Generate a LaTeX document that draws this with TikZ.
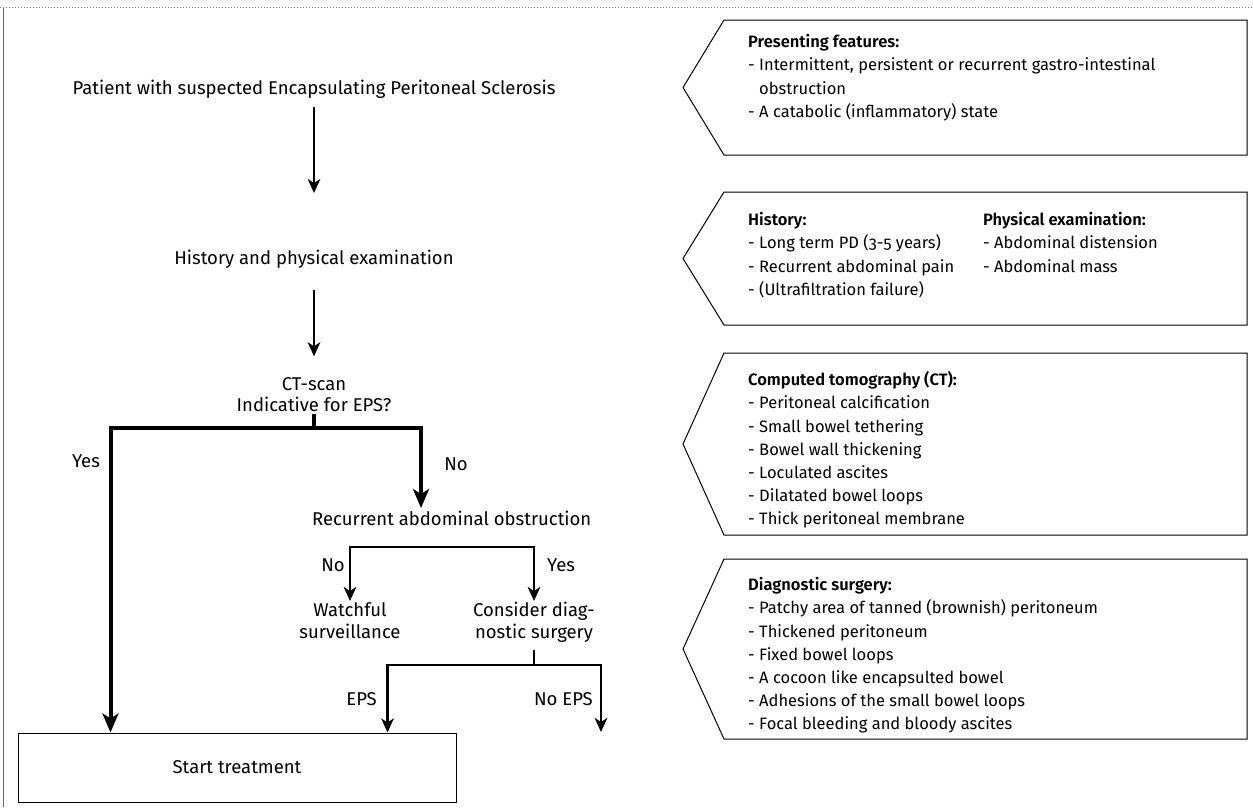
\documentclass[tikz,border=0pt]{standalone}
\usepackage{fontspec}
\setmainfont[Numbers=OldStyle, BoldFont={Fira Sans SemiBold}]{Fira Sans}
\usetikzlibrary{arrows.meta}
\begin{document}
\begin{tikzpicture}[x=1pt,y=-1pt,
  fnt/.style={font=\fontsize{16.5}{23.2}\selectfont},
  ffnt/.style={font=\fontsize{18.5}{22}\selectfont},
  txt/.style={ffnt, inner sep=0pt, text height=13pt, text depth=4.5pt},
  mtxt/.style={ffnt, inner sep=0pt, align=center, anchor=north},
  btxt/.style={fnt, inner sep=0pt, align=left, anchor=north west},
  thinarr/.style={line width=2.4pt, -{Stealth[length=14pt,width=12.5pt,inset=4pt]}},
  thickarr/.style={line width=4pt, -{Stealth[length=19pt,width=16pt,inset=5pt]}},
  thickline/.style={line width=4pt},
  thinline/.style={line width=2.4pt},
  sidebox/.style={draw=black, line width=1pt, line join=miter},
  treat/.style={draw=black, line width=1pt, minimum width=438pt, minimum height=69pt, inner sep=0pt, ffnt}
]
\useasboundingbox (0,0) rectangle (1253,807);
% frame lines
\draw[gray, line width=1pt, dotted] (0,7.5) -- (1253,7.5);
\draw[gray!80!black, line width=1.3pt] (3.5,7.5) -- (3.5,807);

% right side boxes
\draw[sidebox] (724,20) -- (1247,20) -- (1247,155) -- (724,155) -- (683,87.5) -- cycle;
\draw[sidebox] (724,192) -- (1247,192) -- (1247,325) -- (724,325) -- (683,258.5) -- cycle;
\draw[sidebox] (724,353) -- (1247,353) -- (1247,535) -- (724,535) -- (683,444) -- cycle;
\draw[sidebox] (724,559) -- (1247,559) -- (1247,739) -- (724,739) -- (683,649) -- cycle;

\node[btxt] (b1) at (748,31.3) {\strut\textbf{Presenting features:}\\- Intermittent, persistent or recurrent gastro-intestinal\\\hphantom{- }obstruction\\- A catabolic (inflammatory) state};
\node[btxt] (b2) at (748,209.3) {\strut\textbf{History:}\\- Long term PD (3-5 years)\\- Recurrent abdominal pain\\- (Ultrafiltration failure)};
\node[btxt] (b2b) at (983,209.3) {\strut\textbf{Physical examination:}\\- Abdominal distension\\- Abdominal mass};
\node[btxt] (b3) at (748,369.3) {\strut\textbf{Computed tomography (CT):}\\- Peritoneal calcification\\- Small bowel tethering\\- Bowel wall thickening\\- Loculated ascites\\- Dilatated bowel loops\\- Thick peritoneal membrane};
\node[btxt] (b4) at (748,574.3) {\strut\textbf{Diagnostic surgery:}\\- Patchy area of tanned (brownish) peritoneum\\- Thickened peritoneum\\- Fixed bowel loops\\- A cocoon like encapsulted bowel\\- Adhesions of the small bowel loops\\- Focal bleeding and bloody ascites};

% flow nodes
\node[txt] (p1) at (314,90) {Patient with suspected Encapsulating Peritoneal Sclerosis};
\node[txt] (p2) at (314,260) {History and physical examination};
\node[mtxt, font=\fontsize{18.5}{21}\selectfont] (p3) at (314,375.3) {\strut CT-scan\\Indicative for EPS?};
\node[txt, anchor=west] (p4) at (312,521) {Recurrent abdominal obstruction};
\node[mtxt] (p5) at (350,601) {\strut Watchful\\surveillance};
\node[mtxt] (p6) at (534,601) {\strut Consider diag-\\nostic surgery};
\node[treat] (st) at (237,767.5) {Start treatment};

\coordinate (rx) at (421,0);
\coordinate (ctb) at (314,428);
\coordinate (rm) at (443,547);
\coordinate (cm) at (534,665);
\coordinate (ne) at (601,732);

\draw[thinarr, shorten <=8pt, shorten >=58pt] (p1) -- (p2);
\draw[thinarr, shorten <=21pt, shorten >=19pt] (p2) -- (p3);
\draw[thickline] ([yshift=-2pt]p3.south) -- (ctb);
\draw[thickarr] (ctb) -| ([xshift=93pt]st.north west);
\draw[thickarr, shorten >=4pt] (ctb) -| (p4.north -| rx);
\draw[thinarr] (rm) -| (p5.north);
\draw[thinarr] (rm) -| (p6.north);
\draw[thinline, shorten <=7pt] (p6.south) -- (cm);
\draw[thinarr] (cm) -| ([xshift=370pt]st.north west);
\draw[thinarr] (cm) -| (ne);

% labels
\node[txt] (lyes1) at (86,463) {Yes};
\node[txt] (lno1) at (456,466) {No};
\node[txt, anchor=east] (lno2) at (345,567) {No};
\node[txt, anchor=west] (lyes2) at (547,567) {Yes};
\node[txt, anchor=east] (leps) at (377,701) {EPS};
\node[txt, anchor=east] (lneps) at (593,701) {No EPS};
\end{tikzpicture}
\end{document}
